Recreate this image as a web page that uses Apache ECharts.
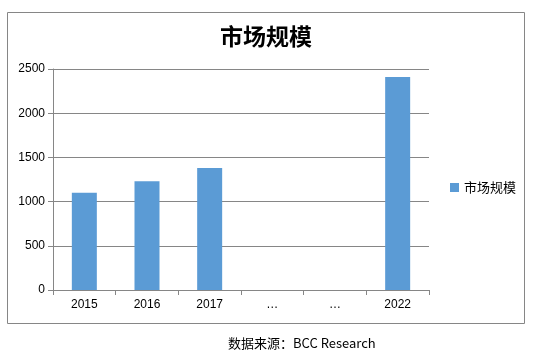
<!DOCTYPE html>
<html><head><meta charset="utf-8">
<script src="https://cdn.jsdelivr.net/npm/echarts@6/dist/echarts.min.js"></script>
<style>html,body{margin:0;padding:0;background:#fff}#c{width:534px;height:359px}</style>
</head><body><div id="c"></div>
<script>
const categories = ['2015','2016','2017','…','…','2022'];
const marketSize = [1100, 1230, 1380, null, null, 2410];
const seriesName = '市场规模';
const titleText = '市场规模';
const sourceText = '数据来源：BCC Research';

const chart = echarts.init(document.getElementById('c'), null, {renderer:'canvas'});
chart.setOption({
  animation:false,
  backgroundColor:'#fff',
  title:{text:titleText,left:261,textAlign:'center',top:20,
    textStyle:{fontFamily:'Noto Sans CJK SC',fontSize:23,fontWeight:'bold',color:'#000'}},
  legend:{data:[seriesName],orient:'vertical',left:445,top:176,itemWidth:9,itemHeight:9,itemGap:4,
    icon:'rect',textStyle:{fontFamily:'Noto Sans CJK SC',fontSize:13,color:'#000'}},
  grid:{left:53,right:105,top:69,bottom:69,containLabel:false},
  xAxis:{type:'category',data:categories,
    axisLine:{lineStyle:{color:'#868686'}},
    axisTick:{show:true,alignWithLabel:false,length:5,lineStyle:{color:'#868686'}},
    axisLabel:{color:'#000',fontFamily:'Liberation Sans',fontSize:12,margin:9}},
  yAxis:{type:'value',min:0,max:2500,interval:500,
    axisLine:{show:true,lineStyle:{color:'#868686'}},
    axisTick:{show:true,length:5,lineStyle:{color:'#868686'}},
    splitLine:{lineStyle:{color:'#868686'}},
    axisLabel:{color:'#000',fontFamily:'Liberation Sans',fontSize:12,margin:8,
      formatter:v=>String(v)}},
  series:[{name:seriesName,type:'bar',data:marketSize,barWidth:25,
    itemStyle:{color:'#5B9BD5'}}],
  graphic:[
    {type:'rect',shape:{x:7.5,y:12.5,width:517,height:311},
      style:{fill:'none',stroke:'#868686',lineWidth:1},silent:true,z:-1},
    {type:'text',left:228,top:337,style:{text:sourceText,
      font:'13px "Noto Sans CJK SC"',fill:'#000'}}
  ]
});
</script></body></html>
